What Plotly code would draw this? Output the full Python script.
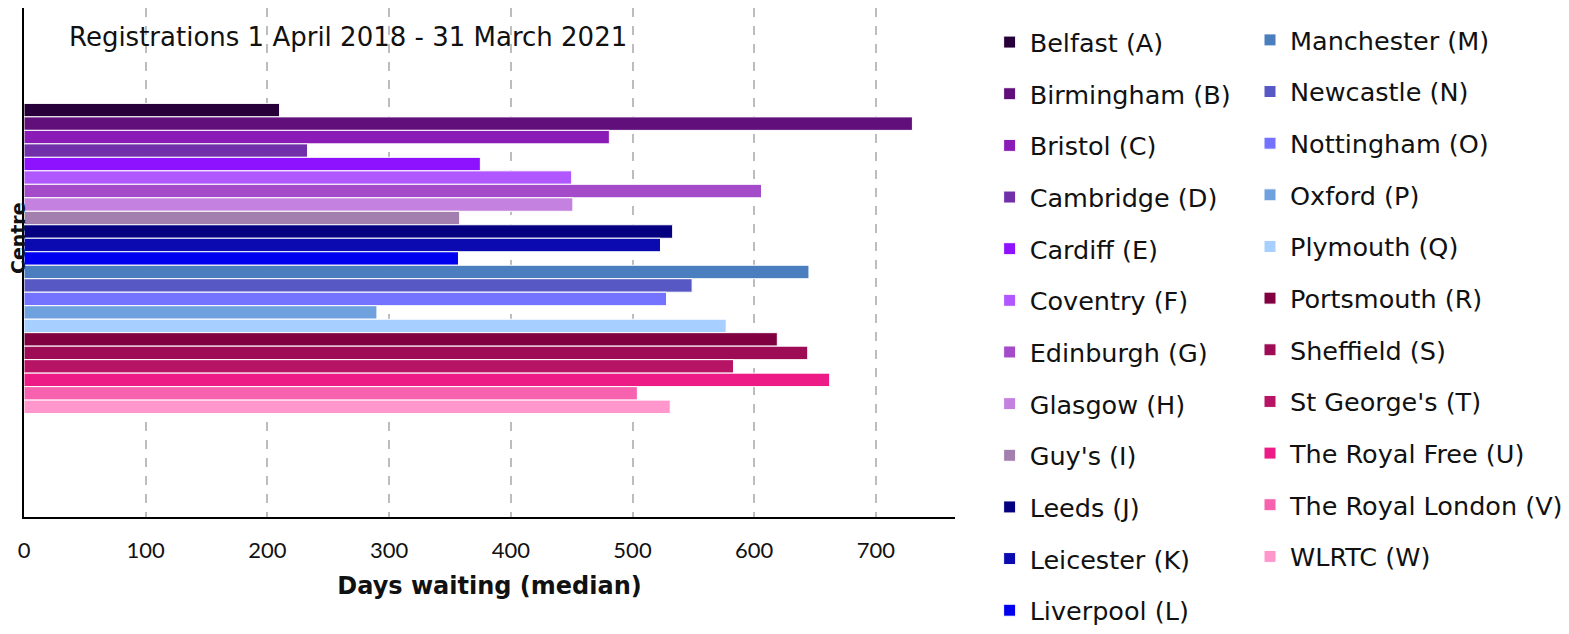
import plotly.graph_objects as go

centres = ["Belfast (A)", "Birmingham (B)", "Bristol (C)", "Cambridge (D)", "Cardiff (E)",
           "Coventry (F)", "Edinburgh (G)", "Glasgow (H)", "Guy's (I)", "Leeds (J)",
           "Leicester (K)", "Liverpool (L)", "Manchester (M)", "Newcastle (N)",
           "Nottingham (O)", "Oxford (P)", "Plymouth (Q)", "Portsmouth (R)",
           "Sheffield (S)", "St George's (T)", "The Royal Free (U)",
           "The Royal London (V)", "WLRTC (W)"]
days = [210, 730, 481, 233, 375, 450, 606, 451, 358, 533, 523, 357,
        645, 549, 528, 290, 577, 619, 644, 583, 662, 504, 531]
colors = ["#27003a", "#600f7b", "#8a1bb7", "#7130a9", "#8e12fe", "#b057ff",
          "#a34bc8", "#c481df", "#a37fb0", "#040080", "#0a0ab0", "#0000ee",
          "#4a7ebe", "#5858c4", "#7373ff", "#6fa1df", "#a7cfff", "#800040",
          "#9e0c55", "#b81466", "#ec1b86", "#f662ad", "#ff96cc"]
category = ["Centre"]
xticks = [0, 100, 200, 300, 400, 500, 600, 700]

fig = go.Figure()
for i, (name, val, col) in enumerate(zip(centres, days, colors)):
    fig.add_trace(go.Bar(
        y=category, x=[val], name=name, orientation="h",
        marker=dict(color=col, line=dict(color="white", width=1)),
        legend="legend" if i < 12 else "legend2",
        legendgroup=name,
        hovertemplate=name + ": %{x}<extra></extra>",
    ))

legend_font = dict(family="DejaVu Sans", size=25.5, color="#111111")
common_legend = dict(font=legend_font, tracegroupgap=15.5, bgcolor="rgba(0,0,0,0)",
                     xanchor="left", yanchor="top", valign="middle",
                     itemclick=False, maxheight=900)

fig.update_layout(
    width=1561, height=626,
    margin=dict(l=16, r=606, t=0, b=117),
    paper_bgcolor="white", plot_bgcolor="white",
    barmode="group", bargap=0.4, bargroupgap=0,
    showlegend=True,
    legend=dict(x=1.0372, y=0.9697, **common_legend),
    legend2=dict(x=1.3175, y=0.9827, **common_legend),
    xaxis=dict(
        range=[0, 765], tickvals=xticks, ticktext=[str(t) for t in xticks],
        showgrid=True, gridcolor="#bdbdbd", gridwidth=2, griddash="dash",
        zeroline=False, showline=True, linecolor="black", linewidth=2,
        ticks="", ticklabelstandoff=13,
        tickfont=dict(family="Lato", size=22, color="#111111"),
        title=dict(text="<b>Days waiting (median)</b>", standoff=15,
                   font=dict(family="DejaVu Sans", size=24, color="#111111")),
    ),
    yaxis=dict(
        range=[0.5, -0.4845], showticklabels=False, showgrid=False,
        zeroline=False, showline=True, linecolor="black", linewidth=2, ticks="",
    ),
    annotations=[
        dict(text="Registrations 1 April 2018 - 31 March 2021", xref="paper", yref="paper",
             x=0.0458, y=0.976, xanchor="left", yanchor="top", showarrow=False,
             font=dict(family="DejaVu Sans", size=26, color="#111111")),
        dict(text="<b>Centre</b>", xref="paper", yref="paper", x=0, y=0.548,
             xshift=-6, xanchor="center", yanchor="middle", textangle=-90,
             showarrow=False, font=dict(family="DejaVu Sans", size=19, color="#111111")),
    ],
)

fig.write_html("out.html")
